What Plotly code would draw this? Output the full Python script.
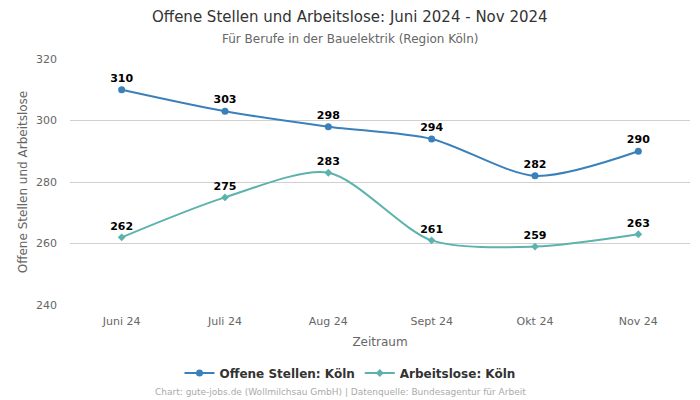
import plotly.graph_objects as go

months = ["Juni 24", "Juli 24", "Aug 24", "Sept 24", "Okt 24", "Nov 24"]
offene = [310, 303, 298, 294, 282, 290]
arbeitslose = [262, 275, 283, 261, 259, 263]

FONT = "DejaVu Sans"
blue = "#3a80ba"
teal = "#5cb3ad"

fig = go.Figure()
fig.add_trace(go.Scatter(
    x=months, y=offene, name="Offene Stellen: Köln",
    mode="lines+markers+text", text=[str(v) for v in offene], textposition="top center",
    textfont=dict(family=FONT, size=11, color="#000000", weight="bold"),
    line=dict(color=blue, width=2, shape="spline", smoothing=0.8),
    marker=dict(size=7, color=blue, symbol="circle"),
    cliponaxis=False,
))
fig.add_trace(go.Scatter(
    x=months, y=arbeitslose, name="Arbeitslose: Köln",
    mode="lines+markers+text", text=[str(v) for v in arbeitslose], textposition="top center",
    textfont=dict(family=FONT, size=11, color="#000000", weight="bold"),
    line=dict(color=teal, width=2, shape="spline", smoothing=0.8),
    marker=dict(size=6, color=teal, symbol="diamond"),
    cliponaxis=False,
))

PLOT_L, PLOT_R, PLOT_T, PLOT_B = 70, 690, 59, 305
def px_x(x):
    return (x - PLOT_L) / (PLOT_R - PLOT_L)
def px_y(y):
    return (PLOT_B - y) / (PLOT_B - PLOT_T)

fig.update_layout(
    width=700, height=400,
    margin=dict(l=PLOT_L, r=700 - PLOT_R, t=PLOT_T, b=400 - PLOT_B),
    paper_bgcolor="white", plot_bgcolor="white",
    font=dict(family=FONT, color="#666666"),
    xaxis=dict(
        title=dict(text="Zeitraum", font=dict(size=12, color="#666666"), standoff=10),
        tickfont=dict(size=11, color="#666666"),
        showgrid=False, showline=False, ticks="", range=[-0.5, 5.5],
        ticklabelstandoff=8,
    ),
    yaxis=dict(
        title=dict(text="Offene Stellen und Arbeitslose", font=dict(size=12, color="#666666"), standoff=5),
        range=[240, 320], dtick=20, tickfont=dict(size=11, color="#666666"),
        gridcolor="#d0d0d0", zeroline=False, showline=False, ticks="",
        ticklabelstandoff=12,
    ),
    legend=dict(
        orientation="h", x=px_x(350), xanchor="center", y=px_y(373), yanchor="middle",
        font=dict(size=12, color="#333333", weight="bold"), itemwidth=30,
    ),
    showlegend=True,
)
fig.add_annotation(
    text="Offene Stellen und Arbeitslose: Juni 2024 - Nov 2024",
    xref="paper", yref="paper", x=px_x(350), y=px_y(17), xanchor="center", yanchor="middle",
    showarrow=False, font=dict(size=15, color="#333333"),
)
fig.add_annotation(
    text="Für Berufe in der Bauelektrik (Region Köln)",
    xref="paper", yref="paper", x=px_x(350), y=px_y(39), xanchor="center", yanchor="middle",
    showarrow=False, font=dict(size=12, color="#666666"),
)
fig.add_annotation(
    text="Chart: gute-jobs.de (Wollmilchsau GmbH) | Datenquelle: Bundesagentur für Arbeit",
    xref="paper", yref="paper", x=px_x(340), y=px_y(392), xanchor="center", yanchor="middle",
    showarrow=False, font=dict(size=9, color="#aaaaaa"),
)
fig.write_html("out.html")
